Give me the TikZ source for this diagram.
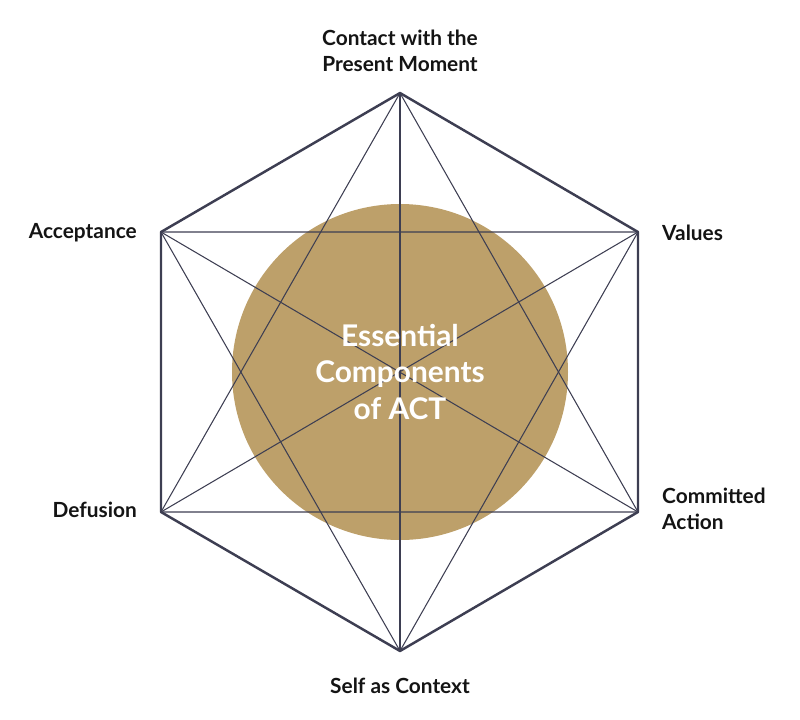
\documentclass[tikz,border=0pt]{standalone}
\usepackage{fontspec}
\setmainfont{Lato}
\usetikzlibrary{positioning}
\definecolor{hexline}{HTML}{3D3E52}
\definecolor{actgold}{HTML}{BDA06A}

\begin{document}
\begin{tikzpicture}[x=0.03cm,y=-0.03cm,
	outer/.style={line width=2.1pt, hexline, line join=round},
	inner/.style={line width=0.9pt, hexline},
	corner/.style={font=\bfseries\fontsize{17.8}{22}\selectfont, text=black!92, inner sep=0pt},
	centre/.style={font=\bfseries\fontsize{25.5}{31.5}\selectfont, text=white, align=center}]

	\useasboundingbox (0,0) rectangle (800,720);

	\coordinate (top) at (400,93);
	\coordinate (ul) at (161,232);
	\coordinate (ur) at (638,232);
	\coordinate (ll) at (161,512);
	\coordinate (lr) at (638,512);
	\coordinate (bot) at (400,651);
	\coordinate (mid) at (400,372);

	\fill[actgold] (mid) circle[radius=168];

	% star and diagonals
	\draw[inner] (top) -- (ll) -- (lr) -- cycle;
	\draw[inner] (ul) -- (ur) -- (bot) -- cycle;
	\draw[inner] (top) -- (bot);
	\draw[inner] (ul) -- (lr);
	\draw[inner] (ur) -- (ll);
	\draw[outer] (top) -- (ur) -- (lr) -- (bot) -- (ll) -- (ul) -- cycle;

	\node[centre] (act) at (mid) {Essential\\Components\\of ACT};

	\node[corner, align=center, anchor=south] (contact) at (400,72) {Contact with the\\Present Moment};
	\node[corner, anchor=east] (accept) at (137,233) {Acceptance};
	\node[corner, anchor=west] (values) at (662,233) {Values};
	\node[corner, anchor=east] (defusion) at (137,510) {Defusion};
	\node[corner, align=left, anchor=west] (committed) at (662,509) {Committed\\Action};
	\node[corner, anchor=north] (self) at (400,678) {Self as Context};
\end{tikzpicture}
\end{document}
